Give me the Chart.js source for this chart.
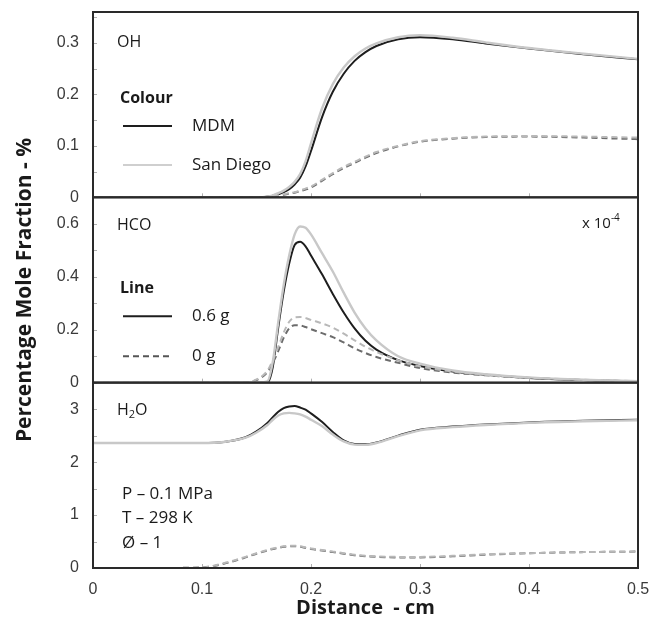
<!DOCTYPE html>
<html>
<head>
<meta charset="utf-8">
<script src="https://cdn.jsdelivr.net/npm/chart.js@4.4.1/dist/chart.umd.min.js"></script>
<style>
  html, body { margin: 0; padding: 0; background: #fff; }
</style>
</head>
<body>
<canvas id="chart" width="657" height="626"></canvas>
<script>
// ── data ──
const distance = [0, 0.05, 0.1, 0.12, 0.14, 0.15, 0.16, 0.165, 0.17, 0.175, 0.18, 0.185, 0.19, 0.195,
                  0.2, 0.21, 0.22, 0.23, 0.24, 0.25, 0.26, 0.28, 0.3, 0.33, 0.36, 0.4, 0.45, 0.5];

// OH
const ohMdm06 = [0,0,0,0,0,0,0.001,0.003,0.006,0.01,0.016,0.025,0.038,0.06,0.09,0.155,0.205,0.24,0.265,0.282,0.294,0.307,0.311,0.307,0.299,0.289,0.278,0.268];
const ohSd06  = [0,0,0,0,0,0,0.001,0.004,0.008,0.013,0.02,0.03,0.045,0.07,0.105,0.172,0.22,0.252,0.274,0.289,0.299,0.311,0.315,0.31,0.301,0.29,0.279,0.269];
const ohMdm0  = [0,0,0,0,0,0,0.001,0.002,0.003,0.005,0.007,0.009,0.012,0.015,0.019,0.032,0.045,0.057,0.067,0.077,0.086,0.099,0.108,0.114,0.117,0.118,0.116,0.113];
const ohSd0   = [0,0,0,0,0,0,0.001,0.002,0.004,0.006,0.008,0.01,0.013,0.017,0.021,0.034,0.047,0.059,0.069,0.079,0.088,0.1,0.109,0.115,0.118,0.119,0.118,0.116];

// HCO (x 10^-4)
const hcoMdm06 = [0,0,0,0,0,0,0,0.06,0.21,0.345,0.45,0.52,0.532,0.515,0.48,0.41,0.335,0.265,0.205,0.158,0.125,0.085,0.063,0.042,0.03,0.018,0.01,0.005];
const hcoSd06  = [0,0,0,0,0,0,0.005,0.08,0.23,0.37,0.48,0.56,0.59,0.585,0.56,0.49,0.42,0.34,0.265,0.205,0.16,0.1,0.072,0.046,0.032,0.02,0.011,0.006];
const hcoMdm0  = [0,0,0,0,0,0.01,0.04,0.075,0.12,0.17,0.205,0.217,0.216,0.21,0.202,0.187,0.172,0.152,0.13,0.112,0.097,0.075,0.055,0.038,0.028,0.018,0.01,0.005];
const hcoSd0   = [0,0,0,0,0,0.012,0.045,0.085,0.135,0.19,0.23,0.247,0.248,0.244,0.237,0.224,0.208,0.185,0.16,0.136,0.116,0.085,0.062,0.042,0.03,0.019,0.011,0.006];

// H2O
const h2oMdm06 = [2.36,2.36,2.36,2.38,2.47,2.58,2.74,2.85,2.95,3.02,3.05,3.06,3.03,2.99,2.92,2.76,2.57,2.41,2.34,2.335,2.37,2.5,2.61,2.67,2.71,2.75,2.78,2.8];
const h2oSd06  = [2.36,2.36,2.36,2.38,2.46,2.56,2.7,2.8,2.88,2.92,2.93,2.92,2.9,2.86,2.8,2.68,2.52,2.39,2.33,2.325,2.36,2.49,2.6,2.66,2.7,2.74,2.77,2.79];
const h2oMdm0  = [0,0,0.01,0.08,0.2,0.27,0.33,0.36,0.38,0.4,0.41,0.41,0.4,0.38,0.36,0.33,0.3,0.27,0.24,0.22,0.21,0.2,0.2,0.22,0.25,0.28,0.3,0.31];
const h2oSd0   = [0,0,0.01,0.09,0.21,0.28,0.34,0.37,0.39,0.41,0.42,0.42,0.41,0.39,0.37,0.34,0.31,0.28,0.25,0.23,0.22,0.21,0.21,0.23,0.26,0.28,0.3,0.31];

// ticks
const xTicks = [0, 0.1, 0.2, 0.3, 0.4, 0.5];
const ohTicks = [0, 0.1, 0.2, 0.3];
const ohMinor = [0.05, 0.15, 0.25, 0.35];
const hcoTicks = [0, 0.2, 0.4, 0.6];
const hcoMinor = [0.1, 0.3, 0.5];
const h2oTicks = [0, 1, 2, 3];
const h2oMinor = [0.5, 1.5, 2.5];

// ── styles ──
const TICK_FONT = { family: "'Liberation Sans', Arial, sans-serif", size: 16 };
const NOTE_FONT = "'Open Sans', 'Noto Sans', sans-serif";
const STYLE = {
  mdm06: { borderColor: '#1e1e1e', borderWidth: 2 },
  sd06:  { borderColor: '#c8c8c8', borderWidth: 2.4 },
  mdm0:  { borderColor: '#6c6c6c', borderWidth: 2, borderDash: [6, 4] },
  sd0:   { borderColor: '#b8b8b8', borderWidth: 2, borderDash: [6, 4] }
};

function series(axis, values, style) {
  return Object.assign({
    yAxisID: axis,
    data: distance.map((d, i) => ({ x: d, y: values[i] })),
    pointRadius: 0,
    fill: false,
    cubicInterpolationMode: 'monotone'
  }, style);
}

function yAxis(ticks, max, extra) {
  return Object.assign({
    type: 'linear', position: 'left', stack: 'panels', stackWeight: 1,
    min: 0, max: max,
    afterBuildTicks: s => { s.ticks = ticks.map(v => ({ value: v })); },
    afterFit: s => { s.width = 93; s.paddingTop = 0; s.paddingBottom = 0; },
    grid: { display: false },
    border: { display: false },
    ticks: { font: TICK_FONT, color: '#3a3a3a', padding: 6, callback: v => String(v) }
  }, extra || {});
}

// frame round each panel, with small inside ticks
const framePlugin = {
  id: 'frame',
  afterDatasetsDraw(chart) {
    const { ctx, chartArea: a, scales } = chart;
    const panels = [[scales.yOH, ohMinor.concat(ohTicks)], [scales.yHCO, hcoMinor.concat(hcoTicks)], [scales.yH2O, h2oMinor.concat(h2oTicks)]];
    ctx.save();
    ctx.strokeStyle = '#b0b0b0';
    ctx.lineWidth = 1;
    panels.forEach(([s, marks]) => {
      marks.forEach(v => {
        const y = Math.round(s.getPixelForValue(v)) + 0.5;
        ctx.beginPath(); ctx.moveTo(a.left, y); ctx.lineTo(a.left + 4, y); ctx.stroke();
      });
      xTicks.slice(1, -1).forEach(v => {
        const x = Math.round(scales.x.getPixelForValue(v)) + 0.5;
        ctx.beginPath(); ctx.moveTo(x, s.bottom); ctx.lineTo(x, s.bottom - 4); ctx.stroke();
      });
    });
    ctx.strokeStyle = '#2a2a2a';
    ctx.lineWidth = 2;
    panels.forEach(([s]) => {
      ctx.strokeRect(a.left, s.top, a.right - a.left, s.bottom - s.top);
    });
    ctx.restore();
  }
};

// panel names, legends and conditions
const notePlugin = {
  id: 'notes',
  afterDraw(chart) {
    const { ctx, chartArea: a, scales } = chart;
    const L = a.left;
    ctx.save();
    ctx.textBaseline = 'middle';
    ctx.fillStyle = '#1a1a1a';
    const text = (t, x, y, size, bold) => {
      ctx.font = (bold ? 'bold ' : '') + size + 'px ' + NOTE_FONT;
      ctx.fillText(t, x, y);
    };
    const sample = (x, y, color, dash) => {
      ctx.beginPath();
      ctx.strokeStyle = color; ctx.lineWidth = 2; ctx.setLineDash(dash || []);
      ctx.moveTo(x, y); ctx.lineTo(x + 49, y); ctx.stroke();
      ctx.setLineDash([]);
    };

    // OH panel
    let t = scales.yOH.top;
    text('OH', L + 24, t + 30, 16);
    text('Colour', L + 27, t + 86, 16, true);
    sample(L + 30, t + 114, '#1e1e1e');
    text('MDM', L + 99, t + 114, 17);
    sample(L + 30, t + 153, '#cfcfcf');
    text('San Diego', L + 99, t + 153, 17);

    // HCO panel
    t = scales.yHCO.top;
    text('HCO', L + 24, t + 28, 16);
    text('Line', L + 27, t + 91, 16, true);
    sample(L + 30, t + 119, '#1e1e1e');
    text('0.6 g', L + 99, t + 119, 17);
    sample(L + 30, t + 159, '#555', [6, 4]);
    text('0 g', L + 99, t + 159, 17);
    ctx.font = '15px ' + NOTE_FONT;
    ctx.fillText('x 10', a.right - 56, t + 26);
    const w = ctx.measureText('x 10').width;
    ctx.font = '10px ' + NOTE_FONT;
    ctx.fillText('-4', a.right - 56 + w, t + 21);

    // H2O panel
    t = scales.yH2O.top;
    ctx.font = '16px ' + NOTE_FONT;
    ctx.fillText('H', L + 24, t + 28);
    let hx = L + 24 + ctx.measureText('H').width;
    ctx.font = '11px ' + NOTE_FONT;
    ctx.fillText('2', hx, t + 32);
    hx += ctx.measureText('2').width;
    ctx.font = '16px ' + NOTE_FONT;
    ctx.fillText('O', hx, t + 28);
    text('P \u2013 0.1 MPa', L + 29, t + 111, 17);
    text('T \u2013 298 K', L + 29, t + 135, 17);
    text('\u00D8 \u2013 1', L + 29, t + 160, 17);
    ctx.restore();
  }
};

new Chart(document.getElementById('chart').getContext('2d'), {
  type: 'line',
  data: {
    datasets: [
      series('yOH', ohSd06, STYLE.sd06),
      series('yOH', ohSd0, STYLE.sd0),
      series('yOH', ohMdm0, STYLE.mdm0),
      series('yOH', ohMdm06, STYLE.mdm06),
      series('yHCO', hcoSd06, STYLE.sd06),
      series('yHCO', hcoSd0, STYLE.sd0),
      series('yHCO', hcoMdm0, STYLE.mdm0),
      series('yHCO', hcoMdm06, STYLE.mdm06),
      series('yH2O', h2oSd06, STYLE.sd06),
      series('yH2O', h2oSd0, STYLE.sd0),
      series('yH2O', h2oMdm0, STYLE.mdm0),
      series('yH2O', h2oMdm06, STYLE.mdm06)
    ]
  },
  options: {
    responsive: false,
    animation: false,
    devicePixelRatio: 1,
    layout: { padding: { left: 0, right: 19, top: 12, bottom: 0 } },
    plugins: { legend: { display: false }, tooltip: { enabled: false } },
    scales: {
      x: {
        type: 'linear', position: 'bottom', min: 0, max: 0.5,
        afterBuildTicks: s => { s.ticks = xTicks.map(v => ({ value: v })); },
        afterFit: s => { s.height = 58; s.paddingLeft = 0; s.paddingRight = 0; },
        grid: { display: false },
        border: { display: false },
        ticks: { font: TICK_FONT, color: '#3a3a3a', padding: 4, maxRotation: 0, callback: v => String(v) },
        title: { display: true, text: 'Distance  - cm', color: '#1a1a1a', padding: 6,
                 font: { family: NOTE_FONT, size: 20, weight: 'bold' } }
      },
      yH2O: yAxis(h2oTicks, 3.5),
      yHCO: yAxis(hcoTicks, 0.7, {
        title: { display: true, text: 'Percentage Mole Fraction - %', color: '#1a1a1a', padding: 12,
                 font: { family: NOTE_FONT, size: 21, weight: 'bold' } }
      }),
      yOH: yAxis(ohTicks, 0.36)
    }
  },
  plugins: [framePlugin, notePlugin]
});
</script>
</body>
</html>
